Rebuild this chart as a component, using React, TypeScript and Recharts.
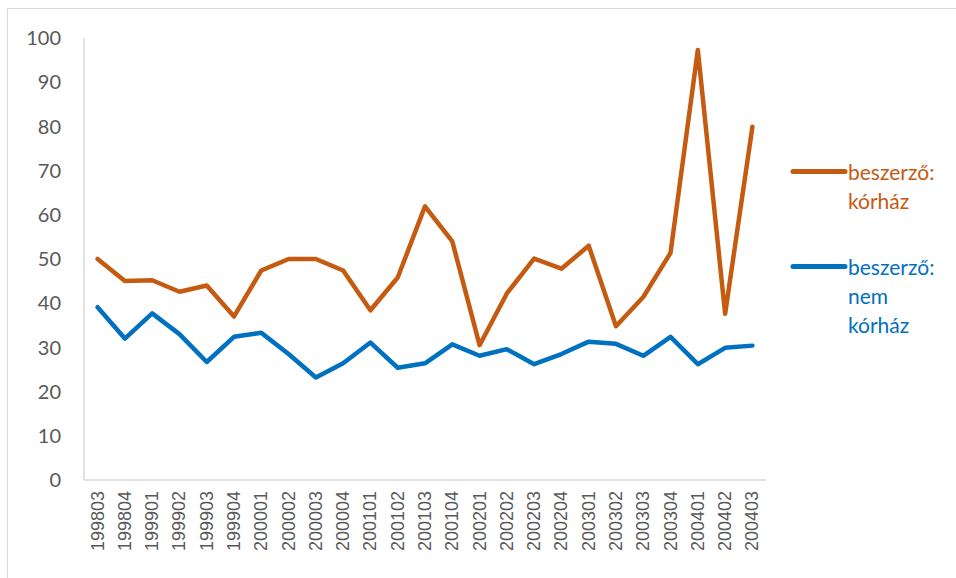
import { LineChart, Line, XAxis, YAxis } from "recharts"

const periods = [
  "199803", "199804", "199901", "199902", "199903", "199904",
  "200001", "200002", "200003", "200004", "200101", "200102",
  "200103", "200104", "200201", "200202", "200203", "200204",
  "200301", "200302", "200303", "200304", "200401", "200402",
  "200403"
]

const korhaz = [
  50.0, 45.0, 45.2, 42.6, 44.0, 37.0,
  47.4, 50.0, 50.0, 47.4, 38.4, 45.8,
  61.9, 54.0, 30.5, 42.2, 50.1, 47.8,
  53.0, 34.8, 41.4, 51.4, 97.3, 37.6,
  79.9
]

const nemKorhaz = [
  39.1, 32.0, 37.7, 33.0, 26.7, 32.4,
  33.3, 28.5, 23.2, 26.4, 31.1, 25.4,
  26.4, 30.7, 28.1, 29.6, 26.2, 28.5,
  31.3, 30.8, 28.1, 32.4, 26.2, 29.9,
  30.4
]

const yTicks = [0, 10, 20, 30, 40, 50, 60, 70, 80, 90, 100]

const data = periods.map((p, i) => ({
  period: p,
  korhaz: korhaz[i],
  nemKorhaz: nemKorhaz[i]
}))

const ORANGE = "#C55A11"
const BLUE = "#0070C0"
const AXIS = "#D9D9D9"

function PeriodTick(props: any) {
  const { x, y, payload } = props
  return (
    <text
      x={x}
      y={y}
      transform={`rotate(-90, ${x}, ${y})`}
      textAnchor="end"
      dominantBaseline="central"
      fill="#595959"
      fontSize={18}
      fontFamily="'Liberation Sans', Arial, sans-serif"
    >
      {payload.value}
    </text>
  )
}

function LegendEntry({ color, lines, top }: { color: string; lines: string[]; top: number }) {
  return (
    <div style={{ position: "absolute", left: 782, top, display: "flex", alignItems: "flex-start" }}>
      <svg width={58} height={29} style={{ flex: "none" }}>
        <line x1={3} y1={14.5} x2={55} y2={14.5} stroke={color} strokeWidth={5} strokeLinecap="round" />
      </svg>
      <div style={{ color, fontFamily: "Lato, sans-serif", fontSize: 21, lineHeight: "29px" }}>
        {lines.map((l) => (
          <div key={l}>{l}</div>
        ))}
      </div>
    </div>
  )
}

export default function App() {
  return (
    <div
      style={{
        position: "fixed",
        left: 7,
        top: 8,
        width: 948,
        height: 569,
        borderLeft: `1px solid ${AXIS}`,
        borderTop: `1px solid ${AXIS}`,
        background: "#fff"
      }}
    >
      <LineChart
        width={940}
        height={569}
        data={data}
        margin={{ top: 29, right: 182, bottom: 8, left: 0 }}
        style={{ fontFamily: "Lato, sans-serif" }}
      >
        <XAxis
          dataKey="period"
          interval={0}
          tickLine={false}
          tickSize={0}
          tickMargin={11}
          axisLine={{ stroke: AXIS, strokeWidth: 1.5 }}
          padding={{ left: 13.6, right: 13.6 }}
          height={90}
          tick={<PeriodTick />}
        />
        <YAxis
          domain={[0, 100]}
          ticks={yTicks}
          width={76}
          tickLine={false}
          tickSize={0}
          tickMargin={23}
          axisLine={{ stroke: AXIS, strokeWidth: 1.5 }}
          tick={{ fill: "#595959", fontSize: 20 }}
        />
        <Line
          dataKey="korhaz"
          stroke={ORANGE}
          strokeWidth={4.5}
          strokeLinejoin="round"
          strokeLinecap="round"
          dot={false}
          isAnimationActive={false}
        />
        <Line
          dataKey="nemKorhaz"
          stroke={BLUE}
          strokeWidth={4.5}
          strokeLinejoin="round"
          strokeLinecap="round"
          dot={false}
          isAnimationActive={false}
        />
      </LineChart>
      <LegendEntry color={ORANGE} lines={["beszerző:", "kórház"]} top={148} />
      <LegendEntry color={BLUE} lines={["beszerző:", "nem", "kórház"]} top={243} />
    </div>
  )
}
